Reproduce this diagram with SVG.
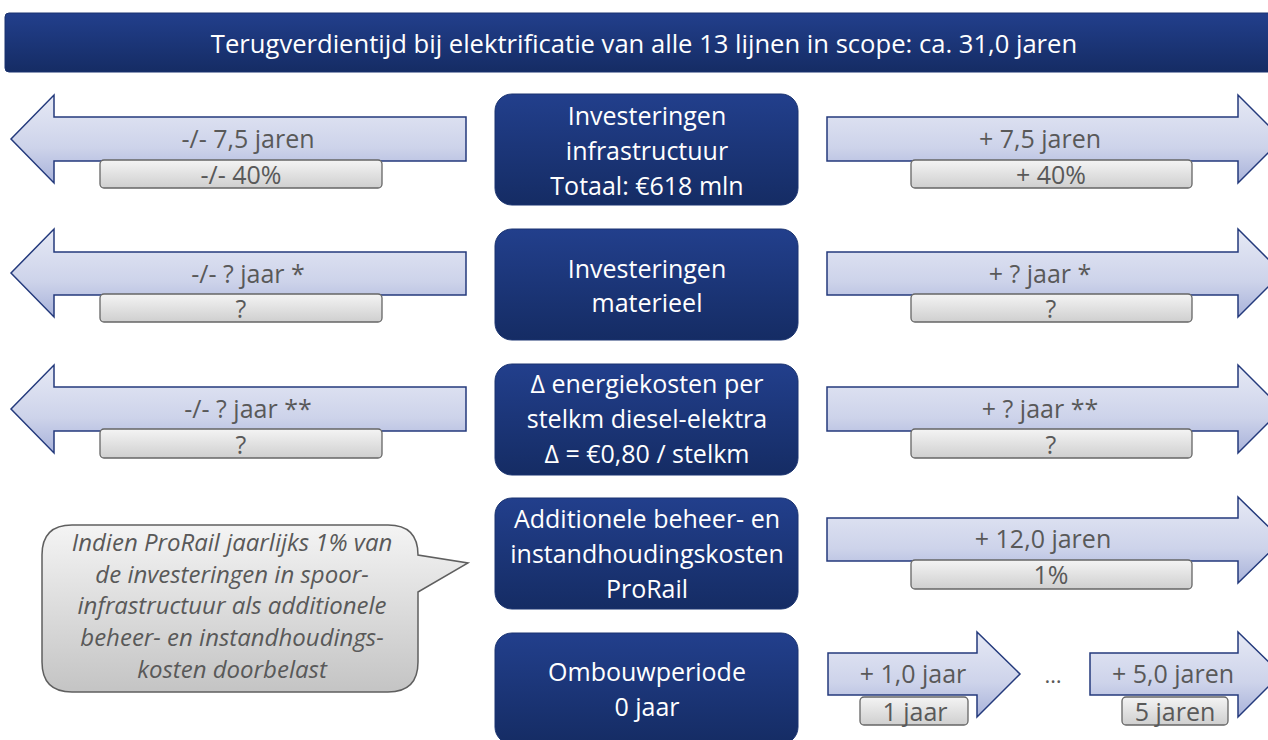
<svg xmlns="http://www.w3.org/2000/svg" width="1268" height="740" viewBox="0 0 1268 740">
<defs>
<linearGradient id="gBlue" x1="0" y1="0" x2="0" y2="1">
<stop offset="0" stop-color="#223f8c"/>
<stop offset="1" stop-color="#152c64"/>
</linearGradient>
<linearGradient id="gArrow" x1="0" y1="0" x2="0" y2="1">
<stop offset="0" stop-color="#e6e9f5"/>
<stop offset="0.6" stop-color="#cdd3ea"/>
<stop offset="1" stop-color="#a8b2da"/>
</linearGradient>
<linearGradient id="gBar" x1="0" y1="0" x2="0" y2="1">
<stop offset="0" stop-color="#f4f4f4"/>
<stop offset="1" stop-color="#cfcfcf"/>
</linearGradient>
<linearGradient id="gBubble" x1="0" y1="0" x2="0" y2="1">
<stop offset="0" stop-color="#f4f4f4"/>
<stop offset="1" stop-color="#c4c4c4"/>
</linearGradient>
</defs>
<style>
.box{fill:url(#gBlue);stroke:#1a3370;stroke-width:1}
.arrow{fill:url(#gArrow);stroke:#243a7c;stroke-width:1.5;stroke-linejoin:miter}
.bar{fill:url(#gBar);stroke:#666;stroke-width:1.3}
.wt{font-family:"Open Sans","Noto Sans",sans-serif;fill:#fff;text-anchor:middle}
.gt{font-family:"Open Sans","Noto Sans",sans-serif;fill:#595959;text-anchor:middle}
.bt{font-size:25px}
.at{font-size:25px}
.it{font-size:24px;font-style:italic}
</style>

<g id="title">
<rect x="5" y="13" width="1270" height="59" rx="4" class="box"/>
<text x="644" y="53" class="wt" font-size="25.6">Terugverdientijd bij elektrificatie van alle 13 lijnen in scope: ca. 31,0 jaren</text>
</g>

<g id="connectors">
<!-- row 1 -->
<path class="arrow" d="M11,139 L54,95 L54,117 L466,117 L466,161 L54,161 L54,183 Z"/>
<path class="arrow" d="M827,117 L1238,117 L1238,95 L1282,139 L1238,183 L1238,161 L827,161 Z"/>
<!-- row 2 -->
<path class="arrow" d="M11,273 L54,229 L54,252 L466,252 L466,295 L54,295 L54,317 Z"/>
<path class="arrow" d="M827,252 L1238,252 L1238,229 L1282,273 L1238,317 L1238,295 L827,295 Z"/>
<!-- row 3 -->
<path class="arrow" d="M11,409 L54,365 L54,387 L466,387 L466,431 L54,431 L54,453 Z"/>
<path class="arrow" d="M827,387 L1238,387 L1238,365 L1282,409 L1238,453 L1238,431 L827,431 Z"/>
<!-- row 4 -->
<path class="arrow" d="M827,518 L1238,518 L1238,497 L1282,540 L1238,583 L1238,561 L827,561 Z"/>
<!-- row 5 -->
<path class="arrow" d="M828,653 L977,653 L977,632 L1020,674 L977,717 L977,695 L828,695 Z"/>
<path class="arrow" d="M1090,653 L1238,653 L1238,632 L1281,674 L1238,717 L1238,695 L1090,695 Z"/>
</g>

<g id="row1-left">
<text x="248" y="148" class="gt at">-/- 7,5 jaren</text>
<rect x="100" y="160" width="282" height="28" rx="4" class="bar"/>
<text x="241" y="184" class="gt at">-/- 40%</text>
</g>
<g id="row1-right">
<text x="1040" y="148" class="gt at">+ 7,5 jaren</text>
<rect x="911" y="160" width="281" height="28" rx="4" class="bar"/>
<text x="1051" y="184" class="gt at">+ 40%</text>
</g>
<g id="row2-left">
<text x="248" y="283" class="gt at">-/- ? jaar *</text>
<rect x="100" y="294" width="282" height="28" rx="4" class="bar"/>
<text x="241" y="318" class="gt at">?</text>
</g>
<g id="row2-right">
<text x="1040" y="283" class="gt at">+ ? jaar *</text>
<rect x="911" y="294" width="281" height="28" rx="4" class="bar"/>
<text x="1051" y="318" class="gt at">?</text>
</g>
<g id="row3-left">
<text x="248" y="418" class="gt at">-/- ? jaar **</text>
<rect x="100" y="429" width="282" height="29" rx="4" class="bar"/>
<text x="241" y="454" class="gt at">?</text>
</g>
<g id="row3-right">
<text x="1040" y="418" class="gt at">+ ? jaar **</text>
<rect x="911" y="429" width="281" height="29" rx="4" class="bar"/>
<text x="1051" y="454" class="gt at">?</text>
</g>
<g id="row4-right">
<text x="1043" y="548" class="gt at">+ 12,0 jaren</text>
<rect x="911" y="560" width="281" height="29" rx="4" class="bar"/>
<text x="1051" y="584" class="gt at">1%</text>
</g>
<g id="row5-a">
<text x="913" y="683" class="gt at">+ 1,0 jaar</text>
<rect x="860" y="697" width="108" height="28" rx="4" class="bar"/>
<text x="915" y="721" class="gt at">1 jaar</text>
</g>
<g id="row5-dots">
<text x="1053" y="683" class="gt" font-size="22">…</text>
</g>
<g id="row5-b">
<text x="1173" y="683" class="gt at">+ 5,0 jaren</text>
<rect x="1122" y="697" width="106" height="28" rx="4" class="bar"/>
<text x="1175" y="721" class="gt at">5 jaren</text>
</g>

<g id="box-infra">
<rect x="495" y="94" width="303" height="111" rx="17" class="box"/>
<text x="647" y="125" class="wt bt">Investeringen</text>
<text x="647" y="160" class="wt bt">infrastructuur</text>
<text x="647" y="195" class="wt bt">Totaal: €618 mln</text>
</g>
<g id="box-materieel">
<rect x="495" y="229" width="303" height="111" rx="17" class="box"/>
<text x="647" y="278" class="wt bt">Investeringen</text>
<text x="647" y="312" class="wt bt">materieel</text>
</g>
<g id="box-energie">
<rect x="495" y="364" width="303" height="111" rx="17" class="box"/>
<text x="647" y="393" class="wt bt">Δ energiekosten per</text>
<text x="647" y="428" class="wt bt">stelkm diesel-elektra</text>
<text x="647" y="463" class="wt bt">Δ = €0,80 / stelkm</text>
</g>
<g id="box-beheer">
<rect x="495" y="498" width="303" height="111" rx="17" class="box"/>
<text x="647" y="528" class="wt bt">Additionele beheer- en</text>
<text x="647" y="563" class="wt bt">instandhoudingskosten</text>
<text x="647" y="598" class="wt bt">ProRail</text>
</g>
<g id="box-ombouw">
<rect x="495" y="633" width="303" height="111" rx="17" class="box"/>
<text x="647" y="681" class="wt bt">Ombouwperiode</text>
<text x="647" y="716" class="wt bt">0 jaar</text>
</g>

<g id="callout">
<path d="M72,525 L388,525 Q418,525 418,555 L468,563 L418,592 L418,662 Q418,692 388,692 L72,692 Q42,692 42,662 L42,555 Q42,525 72,525 Z" fill="url(#gBubble)" stroke="#5f5f5f" stroke-width="1.5"/>
<text x="232" y="551" class="gt it">Indien ProRail jaarlijks 1% van</text>
<text x="232" y="583" class="gt it">de investeringen in spoor-</text>
<text x="232" y="614" class="gt it">infrastructuur als additionele</text>
<text x="232" y="646" class="gt it">beheer- en instandhoudings-</text>
<text x="232" y="678" class="gt it">kosten doorbelast</text>
</g>
</svg>
